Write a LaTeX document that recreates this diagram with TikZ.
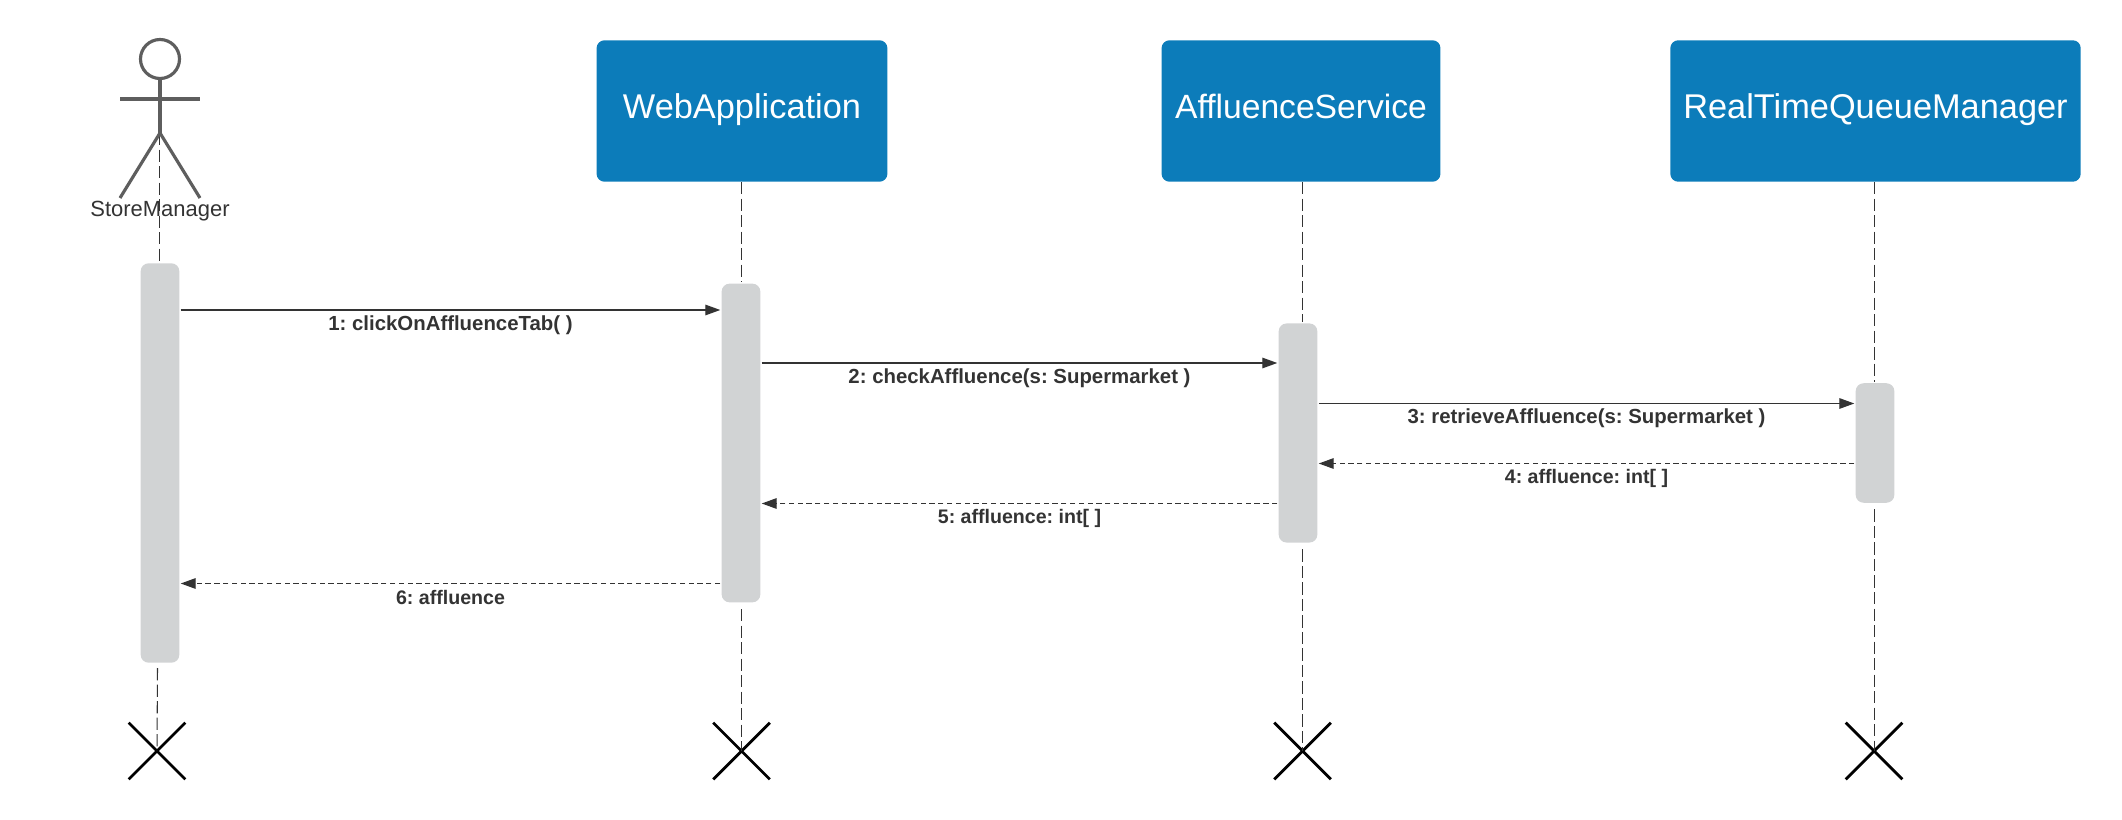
\documentclass[tikz,border=0pt]{standalone}
\usepackage{fontspec}
\setmainfont{Liberation Sans}
\usetikzlibrary{arrows.meta,shapes.misc}
\definecolor{boxBlue}{HTML}{0C7CBA}
\definecolor{barGrey}{HTML}{D1D3D4}
\definecolor{inkGrey}{HTML}{333333}
\definecolor{actorGrey}{HTML}{5E5E5E}
\newcommand{\headtight}{\fontsize{19.15}{23}\selectfont}
\newcommand{\msgtight}{\fontsize{11.15}{14}\selectfont}

\begin{document}
\frenchspacing
\begin{tikzpicture}
[x=0.02cm,y=-0.02cm,
  headDecorate/.style={rectangle,rounded corners=4.5pt,fill=boxBlue,text=white,inner sep=0pt,text height=14.1pt,text depth=5pt,font=\fontsize{19.55}{23}\selectfont},
  barDecorate/.style={rectangle,rounded corners=4.5pt,fill=barGrey,inner sep=0pt,outer sep=0.8pt,minimum width=22pt},
  endDecorate/.style={cross out,draw=black,line width=1.6pt,inner sep=0pt,minimum size=30.6pt},
  actorDecorate/.style={draw=actorGrey,line width=1.8pt},
  lifeDecorate/.style={draw=inkGrey,line width=0.6pt,dash pattern=on 7pt off 2.4pt},
  callDecorate/.style={draw=inkGrey,line width=0.7pt,-{Triangle[length=8.5pt,width=6pt]}},
  backDecorate/.style={callDecorate,dash pattern=on 3pt off 2pt},
  msgDecorate/.style={text=inkGrey,inner sep=0pt,font=\fontsize{11.6}{14}\selectfont\bfseries}]
\useasboundingbox (0,0) rectangle (2122,820);
%% lifeline heads
\foreach \nodename/\x/\y/\w/\title in {
  headWeb/742/111/292/WebApplication,
  headAff/1301/111/280/{\headtight AffluenceService},
  headQueue/1875.5/111/412/RealTimeQueueManager}
{
  \node (\nodename) at (\x,\y) [headDecorate,minimum width=\w*0.5669pt,minimum height=80.5pt] {\title};
}
%% activation bars
\foreach \nodename/\x/\y/\h in {
  barStore/160/463/401,
  barWeb/741/443/320,
  barAff/1298/433/220,
  barQueue/1875/443/120}
{
  \node (\nodename) at (\x,\y) [barDecorate,minimum height=\h*0.5669pt] {};
}
%% ends of the lifelines
\foreach \nodename/\x in {endStore/157,endWeb/741.5,endAff/1302.5,endQueue/1874}
{
  \node (\nodename) at (\x,751) [endDecorate] {};
}
%% actor
\coordinate (hipStore) at (160,133);
\coordinate (armLeft) at (120,99);
\coordinate (armRight) at (200,99);
\coordinate (footLeft) at (120,198);
\coordinate (footRight) at (200,198);
\coordinate (lifeStore) at (159.5,133);
\coordinate (lifeStoreEnd) at (157.5,668);
\node (headStore) at (160,59) [circle,actorDecorate,inner sep=0pt,minimum size=22.2pt] {};
%% lifelines
\draw[lifeDecorate] (lifeStore) -- (barStore.north -| lifeStore);
\draw[lifeDecorate] (lifeStoreEnd) -- (endStore.center);
\path
\foreach \startnode/\midnode/\endnode in {
  headWeb/barWeb/endWeb, headAff/barAff/endAff, headQueue/barQueue/endQueue}
{
  (\startnode.south -| \endnode) edge[lifeDecorate] (\midnode.north -| \endnode)
  (\midnode.south -| \endnode) edge[lifeDecorate,shorten <=3pt] (\endnode.center)
};
\draw[actorDecorate] (headStore.south) -- (hipStore);
\draw[actorDecorate] (armLeft) -- (armRight);
\draw[actorDecorate] (footLeft) -- (hipStore) -- (footRight);
\node (nameStore) at (160,211) [text=inkGrey,inner sep=0pt,font=\fontsize{12.5}{15}\selectfont] {StoreManager};
%% messages
\foreach \startnode/\startside/\endnode/\endside/\y/\style/\ylabel/\msgname/\msgtext in {
  barStore/east/barWeb/west/310/callDecorate/325.5/msgOne/{1: clickOnAffluenceTab( )},
  barWeb/east/barAff/west/363/callDecorate/378.5/msgTwo/{2: checkAffluence(s: Supermarket )},
  barAff/east/barQueue/west/403.5/callDecorate/418.5/msgThree/{3: retrieveAffluence(s: Supermarket )},
  barQueue/west/barAff/east/463.5/backDecorate/478.5/msgFour/{\msgtight 4: affluence: int[ ]},
  barAff/west/barWeb/east/503.5/backDecorate/518.5/msgFive/{\msgtight 5: affluence: int[ ]},
  barWeb/west/barStore/east/583.5/backDecorate/597/msgSix/{\msgtight 6: affluence}}
{
  \draw[\style] (\startnode.\startside |- 0,\y) -- (\endnode.\endside |- 0,\y);
  \path (\startnode.\startside |- 0,\ylabel) -- node (\msgname) [msgDecorate] {\msgtext} (\endnode.\endside |- 0,\ylabel);
}
\end{tikzpicture}
\end{document}
